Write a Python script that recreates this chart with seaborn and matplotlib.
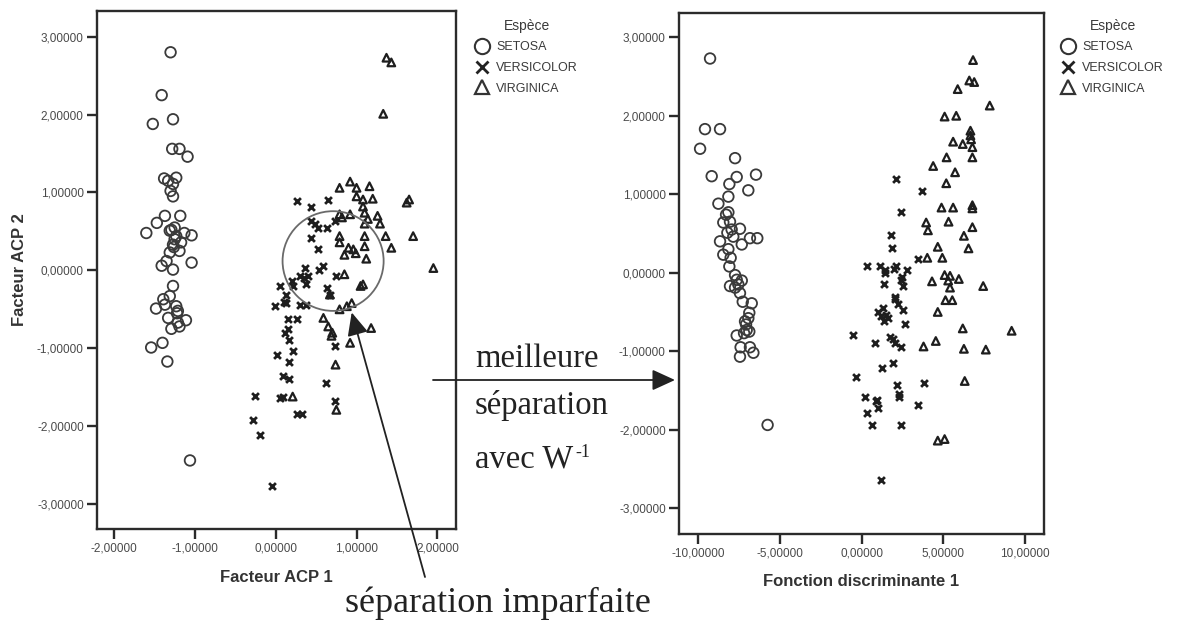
import matplotlib
matplotlib.use("Agg")
import matplotlib.pyplot as plt
from matplotlib.lines import Line2D
from matplotlib.patches import Ellipse
import numpy as np
import pandas as pd
import seaborn as sns

# ---------------- data ----------------
species = ["SETOSA", "VERSICOLOR", "VIRGINICA"]

# Left panel : PCA (Facteur ACP 1 / Facteur ACP 2)
acp_setosa_x = [-1.30, -1.41, -1.52, -1.27, -1.28, -1.19, -1.09, -1.38, -1.23, -1.27,
                -1.30, -1.27, -1.37, -1.47, -1.18, -1.60, -1.31, -1.25, -1.23, -1.13,
                -1.04, -1.27, -1.17, -1.19, -1.31, -1.35, -1.41, -1.27, -1.04, -1.27,
                -1.31, -1.39, -1.37, -1.48, -1.23, -1.21, -1.33, -1.11, -1.19, -1.29,
                -1.21, -1.54, -1.40, -1.34, -1.06, -1.25, -1.29, -1.22, -1.26, -1.33]
acp_setosa_y = [2.80, 2.25, 1.88, 1.94, 1.56, 1.56, 1.46, 1.18, 1.19, 1.11,
                1.02, 0.95, 0.70, 0.61, 0.70, 0.48, 0.51, 0.55, 0.44, 0.48,
                0.45, 0.33, 0.36, 0.25, 0.23, 0.12, 0.06, 0.01, 0.10, -0.20,
                -0.33, -0.37, -0.44, -0.49, -0.46, -0.52, -0.61, -0.64, -0.72, -0.75,
                -0.67, -0.99, -0.93, -1.17, -2.44, 0.40, 0.52, -0.55, 0.30, 1.15]
acp_versicolor_x = [0.26, 0.65, 0.44, 0.44, 0.52, 0.63, 0.73, 0.44, 0.52, 0.59,
                    0.54, 0.36, 0.30, 0.40, 0.75, 0.38, 0.21, 0.05, 0.63, 0.67,
                    0.13, -0.01, 0.13, 0.30, 0.38, 0.15, 0.26, 0.11, 0.17, 0.21,
                    0.01, 0.17, 0.09, 0.17, -0.26, 0.05, 0.09, 0.26, 0.33, -0.28,
                    -0.20, -0.05, 0.73, 0.62, 0.73, 0.10, 0.20, 0.48, 0.35, 0.15]
acp_versicolor_y = [0.89, 0.90, 0.81, 0.63, 0.54, 0.55, 0.63, 0.41, 0.27, 0.05,
                    0.01, 0.03, -0.07, -0.07, -0.07, -0.18, -0.20, -0.20, -0.22, -0.31,
                    -0.31, -0.46, -0.42, -0.44, -0.44, -0.62, -0.62, -0.80, -0.89, -1.04,
                    -1.08, -1.17, -1.36, -1.39, -1.61, -1.64, -1.62, -1.84, -1.84, -1.92,
                    -2.11, -2.77, -0.97, -1.44, -1.68, -0.40, -0.13, 0.60, -0.10, -0.75]
acp_virginica_x = [1.37, 1.43, 1.33, 0.79, 0.92, 1.00, 1.16, 1.08, 1.20, 1.62,
                   1.65, 0.79, 0.92, 1.10, 1.14, 1.29, 1.10, 0.79, 1.10, 1.36,
                   1.70, 1.43, 0.90, 1.10, 0.79, 1.95, 0.85, 1.08, 0.67, 0.79,
                   0.88, 0.94, 0.59, 0.65, 0.69, 0.92, 1.18, 0.74, 0.21, 0.75,
                   0.96, 0.99, 1.08, 0.82, 1.05, 0.70, 1.00, 0.85, 1.26, 1.12]
acp_virginica_y = [2.73, 2.67, 2.01, 1.06, 1.14, 1.06, 1.08, 0.91, 0.92, 0.87,
                   0.91, 0.72, 0.72, 0.74, 0.66, 0.60, 0.60, 0.44, 0.44, 0.44,
                   0.44, 0.29, 0.29, 0.31, 0.36, 0.03, -0.05, -0.18, -0.31, -0.50,
                   -0.46, -0.42, -0.61, -0.72, -0.84, -0.93, -0.74, -1.21, -1.62, -1.79,
                   0.27, 0.22, 0.82, 0.68, -0.20, -0.80, 0.95, 0.20, 0.70, 0.15]

# Right panel : discriminant function 1 / second axis
fd_setosa_x = [-9.27, -9.58, -8.66, -9.88, -7.74, -9.17, -8.09, -7.64, -6.46, -6.93,
               -8.15, -8.76, -8.15, -8.46, -8.05, -8.21, -7.44, -8.66, -7.85, -7.33,
               -6.83, -6.38, -8.15, -8.46, -8.01, -8.09, -7.74, -7.33, -8.05, -7.74,
               -7.44, -7.27, -6.72, -6.87, -6.93, -7.07, -6.87, -7.19, -7.64, -7.40,
               -6.83, -6.62, -7.44, -5.75, -7.54, -7.13, -7.95, -7.64, -7.03, -8.29]
fd_setosa_y = [2.73, 1.83, 1.83, 1.58, 1.46, 1.23, 1.13, 1.22, 1.25, 1.05,
               0.97, 0.88, 0.77, 0.64, 0.65, 0.51, 0.56, 0.40, 0.46, 0.36,
               0.44, 0.44, 0.30, 0.23, 0.19, 0.08, -0.03, -0.10, -0.17, -0.19,
               -0.26, -0.37, -0.39, -0.51, -0.58, -0.66, -0.75, -0.77, -0.80, -0.95,
               -0.95, -1.02, -1.07, -1.94, -0.15, -0.62, 0.55, -0.09, -0.73, 0.74]
fd_versicolor_x = [2.12, 3.67, 2.42, 1.77, 1.84, 3.48, 0.31, 1.13, 1.44, 2.12,
                   2.78, 1.36, 2.42, 2.54, 2.07, 2.07, 1.01, 1.48, 1.36, 2.54,
                   2.66, -0.52, 0.85, 1.72, 2.07, 2.42, 1.95, 1.25, -0.33, 2.19,
                   3.84, 0.19, 0.89, 1.01, 2.31, 3.48, 0.31, 0.66, 2.42, 1.20,
                   1.60, 1.30, 2.20, 2.50, 1.90, 0.95, 2.30, 1.45, 2.00, 1.20]
fd_versicolor_y = [1.19, 1.04, 0.78, 0.48, 0.32, 0.17, 0.09, 0.08, 0.03, 0.09,
                   0.03, -0.14, -0.09, -0.17, -0.31, -0.34, -0.50, -0.54, -0.61, -0.48,
                   -0.65, -0.80, -0.90, -0.82, -0.90, -0.95, -1.15, -1.22, -1.33, -1.43,
                   -1.40, -1.58, -1.64, -1.73, -1.58, -1.69, -1.79, -1.94, -1.94, -2.64,
                   -0.58, -0.45, -0.40, -0.05, -0.85, -1.62, -1.55, 0.00, 0.05, -0.55]
fd_virginica_x = [6.82, 6.59, 6.89, 5.88, 7.84, 5.08, 5.79, 6.66, 6.66, 5.60,
                  6.19, 6.78, 5.20, 6.78, 4.38, 5.72, 5.18, 4.89, 5.60, 6.78,
                  6.78, 3.95, 5.32, 4.06, 6.78, 6.26, 4.66, 6.54, 4.02, 4.94,
                  5.08, 5.41, 5.95, 4.31, 7.44, 5.41, 5.13, 5.55, 4.66, 6.19,
                  9.18, 3.79, 4.54, 6.26, 7.60, 6.31, 4.66, 5.08, 5.30, 6.70]
fd_virginica_y = [2.71, 2.45, 2.43, 2.34, 2.13, 1.99, 2.00, 1.81, 1.75, 1.67,
                  1.64, 1.60, 1.47, 1.47, 1.36, 1.28, 1.14, 0.83, 0.83, 0.86,
                  0.82, 0.64, 0.65, 0.54, 0.58, 0.47, 0.33, 0.31, 0.19, 0.19,
                  -0.03, -0.04, -0.08, -0.11, -0.17, -0.19, -0.35, -0.35, -0.50, -0.71,
                  -0.74, -0.94, -0.87, -0.97, -0.98, -1.38, -2.14, -2.12, -0.10, 1.70]

# tick values / labels
left_xticks = [-2, -1, 0, 1, 2]
left_xticklabels = ["-2,00000", "-1,00000", "0,00000", "1,00000", "2,00000"]
yticks = [-3, -2, -1, 0, 1, 2, 3]
yticklabels = ["-3,00000", "-2,00000", "-1,00000", "0,00000", "1,00000", "2,00000", "3,00000"]
right_xticks = [-10, -5, 0, 5, 10]
right_xticklabels = ["-10,00000", "-5,00000", "0,00000", "5,00000", "10,00000"]

left_xlabel = "Facteur ACP 1"
left_ylabel = "Facteur ACP 2"
right_xlabel = "Fonction discriminante 1"
legend_title = "Espèce"

# ---------------- frames ----------------
def frame(xs, ys):
    rows = []
    for sp, xv, yv in zip(species, xs, ys):
        rows.append(pd.DataFrame({"x": xv, "y": yv, "Espèce": sp}))
    return pd.concat(rows, ignore_index=True)

df_left = frame([acp_setosa_x, acp_versicolor_x, acp_virginica_x],
                [acp_setosa_y, acp_versicolor_y, acp_virginica_y])
df_right = frame([fd_setosa_x, fd_versicolor_x, fd_virginica_x],
                 [fd_setosa_y, fd_versicolor_y, fd_virginica_y])

# ---------------- style ----------------
sns.set_theme(style="white")
plt.rcParams["font.family"] = ["Liberation Sans", "DejaVu Sans"]

INK = "#2b2b2b"
W, H = 1179, 621
fig = plt.figure(figsize=(W / 100, H / 100), dpi=100)
fig.patch.set_facecolor("white")

ax_l = fig.add_axes([97 / W, 1 - 529 / H, 359 / W, 518 / H])
ax_r = fig.add_axes([679 / W, 1 - 534 / H, 365 / W, 521 / H])

marker_kw = {
    "SETOSA": dict(marker="o", s=58, facecolor="none", edgecolor="#3a3a3a", linewidth=1.3),
    "VERSICOLOR": dict(marker="x", s=24, color="#1e1e1e", linewidth=2.0),
    "VIRGINICA": dict(marker="^", s=30, facecolor="none", edgecolor="#1e1e1e", linewidth=1.6),
}


def draw(ax, df):
    for sp in species:
        sns.scatterplot(data=df[df["Espèce"] == sp], x="x", y="y", ax=ax,
                        legend=False, zorder=3, **marker_kw[sp])


draw(ax_l, df_left)
draw(ax_r, df_right)

for ax in (ax_l, ax_r):
    for sp in ax.spines.values():
        sp.set_visible(True)
        sp.set_color(INK)
        sp.set_linewidth(1.7)
    ax.tick_params(axis="both", which="major", direction="out", length=7.5, width=1.7,
                   color=INK, labelsize=8.5, labelcolor="#4a4a4a", pad=2,
                   left=True, bottom=True, top=False, right=False)
    ax.set_yticks(yticks)
    ax.set_yticklabels(yticklabels)
    ax.grid(False)

ax_l.set_xlim(-2.21, 2.23)
ax_l.set_ylim(-3.32, 3.33)
ax_l.set_xticks(left_xticks)
ax_l.set_xticklabels(left_xticklabels)
ax_l.set_xlabel(left_xlabel, fontsize=12, fontweight="bold", color="#333333")
ax_l.set_ylabel(left_ylabel, fontsize=12, fontweight="bold", color="#333333")
ax_l.xaxis.set_label_coords(0.5, -0.079)
ax_l.yaxis.set_label_coords(-0.195, 0.5)

ax_r.set_xlim(-11.17, 11.16)
ax_r.set_ylim(-3.33, 3.31)
ax_r.set_xticks(right_xticks)
ax_r.set_xticklabels(right_xticklabels)
ax_r.set_xlabel(right_xlabel, fontsize=12, fontweight="bold", color="#333333")
ax_r.set_ylabel("")
ax_r.xaxis.set_label_coords(0.5, -0.077)

# legends
handles = [
    Line2D([], [], linestyle="none", marker="o", markersize=11, markerfacecolor="none",
           markeredgecolor="#333333", markeredgewidth=1.5),
    Line2D([], [], linestyle="none", marker="x", markersize=8.5, color="#222222",
           markeredgewidth=2.0),
    Line2D([], [], linestyle="none", marker="^", markersize=10, markerfacecolor="none",
           markeredgecolor="#333333", markeredgewidth=1.6),
]
for ax, xpix in ((ax_l, 476), (ax_r, 1062)):
    leg = ax.legend(handles, species, title=legend_title, loc="upper left",
                    bbox_to_anchor=(xpix / W, 1 - 19 / H), bbox_transform=fig.transFigure,
                    frameon=False, fontsize=9, title_fontsize=10, handlelength=1.0,
                    handletextpad=0.6, labelspacing=0.68, borderpad=0, borderaxespad=0)
    for t in leg.get_texts():
        t.set_color("#3a3a3a")
    leg.get_title().set_color("#3a3a3a")

# annotations on left panel
ax_l.add_patch(Ellipse((0.71, 0.12), width=1.25, height=1.28, facecolor="none",
                       edgecolor="#6a6a6a", linewidth=1.3, zorder=4))

serif = ["Liberation Serif", "DejaVu Serif"]
arrow_style = "-|>,head_length=0.7,head_width=0.32"

ax_l.annotate("", xy=(0.94, -0.54), xycoords="data",
              xytext=(425 / W, 1 - 577 / H), textcoords="figure fraction",
              arrowprops=dict(arrowstyle=arrow_style, color="#222222", lw=1.3,
                              mutation_scale=20, shrinkA=0, shrinkB=0),
              annotation_clip=False, zorder=5)
fig.text(345 / W, 1 - 612 / H, "séparation imparfaite", family=serif, fontsize=26,
         color="#222222", ha="left", va="baseline")

ax_l.annotate("", xy=(675 / W, 1 - 380 / H), xycoords="figure fraction",
              xytext=(433 / W, 1 - 380 / H), textcoords="figure fraction",
              arrowprops=dict(arrowstyle=arrow_style, color="#222222", lw=1.3,
                              mutation_scale=20, shrinkA=0, shrinkB=0),
              annotation_clip=False, zorder=5)
fig.text(475 / W, 1 - 367 / H, "meilleure", family=serif, fontsize=23.5,
         color="#222222", ha="left", va="baseline")
fig.text(475 / W, 1 - 414 / H, "séparation", family=serif, fontsize=23.5,
         color="#222222", ha="left", va="baseline")
fig.text(475 / W, 1 - 467 / H, "avec W", family=serif, fontsize=23.5,
         color="#222222", ha="left", va="baseline")
fig.text(575 / W, 1 - 457 / H, "-1", family=serif, fontsize=13,
         color="#222222", ha="left", va="baseline")

fig.savefig("out.png", dpi=100, facecolor="white")
